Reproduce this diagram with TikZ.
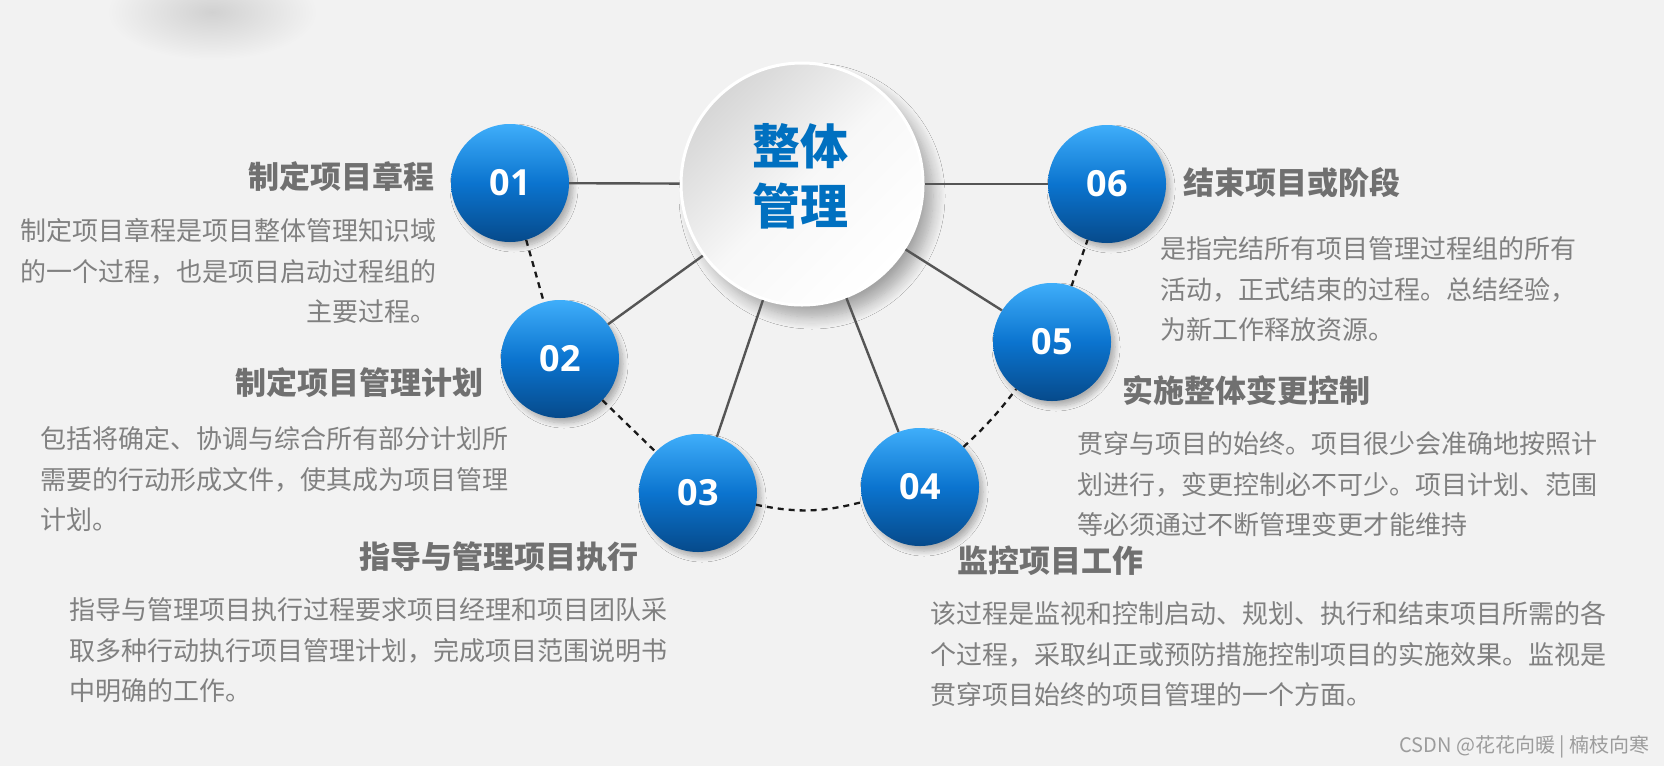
\documentclass[tikz,border=0pt]{standalone}
\usepackage{fontspec}
\setmainfont{Noto Sans CJK SC}
\newfontfamily\numfont{Open Sans}
\usetikzlibrary{shadows.blur}
\definecolor{bg}{HTML}{F2F2F2}
\definecolor{tgray}{HTML}{707070}
\definecolor{bgray}{HTML}{808080}
\definecolor{wgray}{HTML}{9C9C9C}
\definecolor{lblue}{HTML}{3FAEFA}
\definecolor{mblue}{HTML}{0B74CF}
\definecolor{dblue}{HTML}{064A8B}
\definecolor{cblue}{HTML}{0070C0}
\definecolor{spokec}{HTML}{555555}
\begin{document}
\begin{tikzpicture}[x=1pt,y=-1pt,
  num/.style={circle, minimum size=118pt, inner sep=0pt,
    top color=lblue, bottom color=dblue, middle color=mblue,
    text=white, font=\numfont\bfseries\fontsize{36}{36}\selectfont,
    blur shadow={shadow xshift=4pt, shadow yshift=-5pt, shadow blur radius=5pt, shadow blur steps=8, shadow opacity=28}},
  ttl/.style={text=tgray, font=\bfseries\fontsize{31}{31}\selectfont, inner sep=0pt},
  body/.style={text=bgray, font=\fontsize{26}{40.5}\selectfont, inner sep=0pt},
  spoke/.style={draw=spokec, line width=2.4pt},
  ring/.style={draw=black!90, line width=2.3pt, dash pattern=on 6pt off 5pt},
]
\useasboundingbox (0,0) rectangle (1664,766);
\fill[bg] (0,0) rectangle (1664,766);
\begin{scope}
  \clip (0,0) rectangle (1664,766);
  \shade[inner color=black!18, outer color=bg] (212,12) ellipse (105 and 48);
\end{scope}

% centre
\node (c) at (802,184) [circle, minimum size=242pt, inner sep=0pt, draw=white, line width=3pt,
  top color=black!16, bottom color=white, middle color=black!3, shading angle=45,
  blur shadow={shadow xshift=10pt, shadow yshift=-12pt, shadow blur radius=12pt, shadow blur steps=12, shadow opacity=32}] {};
\node (ct) at (800,176) [text=cblue, align=center, inner sep=0pt,
  font=\bfseries\fontsize{48}{60}\selectfont] {整体\\管理};

% numbered circles
\node[num] (n1) at (510,183) {01};
\node[num] (n2) at (560,359) {02};
\node[num] (n3) at (698,493) {03};
\node[num] (n4) at (920,487) {04};
\node[num] (n5) at (1052,342) {05};
\node[num] (n6) at (1107,184) {06};

% spokes
\draw[spoke] (n1) -- (c);
\draw[spoke] (c) -- (n6);
\draw[spoke] (c) -- (n2);
\draw[spoke] (c) -- (n3);
\draw[spoke] (c) -- (n4);
\draw[spoke] (c) -- (n5);

% dashed ring
\draw[ring] (n1) -- (n2);
\draw[ring] (n2) -- (n3);
\draw[ring] (n3) to[bend right=13] (n4);
\draw[ring] (n4) to[bend right=5] (n5);
\draw[ring] (n5) -- (n6);

% titles
\node[ttl, anchor=east] (t1) at (435,177) {制定项目章程};
\node[ttl, anchor=east] (t2) at (484,383) {制定项目管理计划};
\node[ttl, anchor=west] (t3) at (359,557) {指导与管理项目执行};
\node[ttl, anchor=west] (t4) at (957,561) {监控项目工作};
\node[ttl, anchor=west] (t5) at (1122,390) {实施整体变更控制};
\node[ttl, anchor=west] (t6) at (1183,183) {结束项目或阶段};

% bodies
\node[body, align=right, anchor=north east] (b1) at (437,218.5)
  {制定项目章程是项目整体管理知识域\\的一个过程，也是项目启动过程组的\\主要过程。};
\node[body, align=left, anchor=north west] (b2) at (40,426.5)
  {包括将确定、协调与综合所有部分计划所\\需要的行动形成文件，使其成为项目管理\\计划。};
\node[body, align=left, anchor=north west] (b3) at (69,597.5)
  {指导与管理项目执行过程要求项目经理和项目团队采\\取多种行动执行项目管理计划，完成项目范围说明书\\中明确的工作。};
\node[body, align=left, anchor=north west] (b4) at (930,601.5)
  {该过程是监视和控制启动、规划、执行和结束项目所需的各\\个过程，采取纠正或预防措施控制项目的实施效果。监视是\\贯穿项目始终的项目管理的一个方面。};
\node[body, align=left, anchor=north west] (b5) at (1077,431.5)
  {贯穿与项目的始终。项目很少会准确地按照计\\划进行，变更控制必不可少。项目计划、范围\\等必须通过不断管理变更才能维持};
\node[body, align=left, anchor=north west] (b6) at (1160,236.5)
  {是指完结所有项目管理过程组的所有\\活动，正式结束的过程。总结经验，\\为新工作释放资源。};

% watermark
\node[text=wgray, anchor=east, inner sep=0pt, font=\fontsize{20}{20}\selectfont] (wm) at (1650,747)
  {CSDN @花花向暖 | 楠枝向寒};
\end{tikzpicture}
\end{document}
